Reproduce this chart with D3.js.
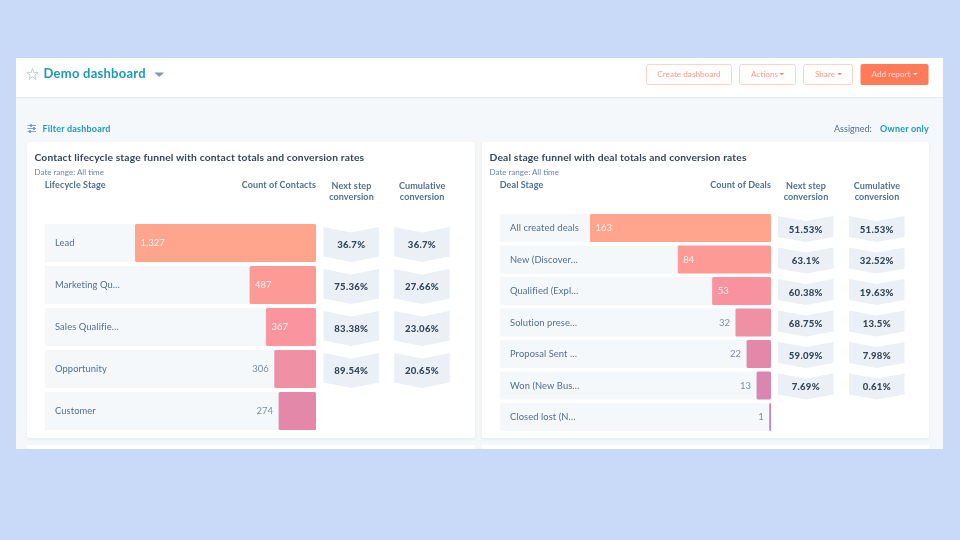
<!DOCTYPE html>
<html><head><meta charset="utf-8">
<script src="https://cdn.jsdelivr.net/npm/d3@7/dist/d3.min.js"></script>
<style>
html,body{margin:0;padding:0;background:#c9daf8;}
svg{display:block;filter:blur(0.35px);}
text{font-family:Lato,"Open Sans",sans-serif;}
</style></head><body>
<svg id="c" width="960" height="540"></svg>
<script>
const contactStages = ["Lead","Marketing Qu…","Sales Qualifie…","Opportunity","Customer"];
const contactCounts = [1327,487,367,306,274];
const contactNext = ["36.7%","75.36%","83.38%","89.54%"];
const contactCum = ["36.7%","27.66%","23.06%","20.65%"];
const contactColors = ["#ffa58d","#fe9a96","#fa95a0","#ef90a5","#e388a9"];
const dealStages = ["All created deals","New (Discover…","Qualified (Expl…","Solution prese…","Proposal Sent …","Won (New Bus…","Closed lost (N…"];
const dealCounts = [163,84,53,32,22,13,1];
const dealNext = ["51.53%","63.1%","60.38%","68.75%","59.09%","7.69%"];
const dealCum = ["51.53%","32.52%","19.63%","13.5%","7.98%","0.61%"];
const dealColors = ["#ffa58d","#fe9a96","#f8929f","#ef90a5","#e388a9","#d987b0","#cc85b5"];
const buttons = [["Create dashboard",646,732],["Actions",739,796],["Share",803,853]];

const svg = d3.select("#c");
const fmt = d3.format(",");
const T = (x,y,s,size,fill,weight,anchor,ls) => svg.append("text").attr("x",x).attr("y",y).text(s)
  .attr("font-size",size).attr("fill",fill).attr("font-weight",weight||400)
  .attr("text-anchor",anchor||"start").attr("letter-spacing",ls||0);
const R = (x,y,w,h,fill,r,stroke) => svg.append("rect").attr("x",x).attr("y",y).attr("width",w).attr("height",h)
  .attr("fill",fill).attr("rx",r||0).attr("stroke",stroke||"none");

// shadow
const defs = svg.append("defs");
const f = defs.append("filter").attr("id","sh").attr("x","-5%").attr("y","-5%").attr("width","110%").attr("height","110%");
f.append("feDropShadow").attr("dx",0).attr("dy",1).attr("stdDeviation",1.5).attr("flood-color","#cbd6e2").attr("flood-opacity",.5);

// shell
R(16,58,927,391,"#f5f8fa");
R(16,58,927,39,"#ffffff");
R(16,97,927,1,"#e5edf3");

// star
const star = d3.symbol().type(d3.symbolStar).size(40)();
svg.append("path").attr("d",star).attr("transform","translate(32.5,74.5)").attr("fill","none").attr("stroke","#b9c9d8").attr("stroke-width",.9);
T(43.5,78,"Demo dashboard",13,"#1d9bb2",700,"start",0.25);
svg.append("path").attr("d","M154.5,72.5h9.5l-4.75,4.5z").attr("fill","#7c98b6");

buttons.forEach(([s,a,b])=>{
  R(a+.5,64.5,b-a-1,20,"#fff",2,"#ffd3c7");
  const hasCaret = s!=="Create dashboard";
  T((a+b)/2-(hasCaret?3:0),76.5,s,8.2,"#ff9b82",400,"middle");
  if(hasCaret){
    const tw = s==="Actions"?13:10.5;
    svg.append("path").attr("d",`M${(a+b)/2+tw-1},73h4.4l-2.2,2.2z`).attr("fill","#ff7a59");
  }
});
R(860.5,64,68,21,"#ff7a59",2);
T(891,76.5,"Add report",8.2,"#ffd9cf",400,"middle");
svg.append("path").attr("d","M913,73h4.4l-2.2,2.2z").attr("fill","#fff");

// filter row
[[125.5,31],[128.5,34],[131.5,30]].forEach(([y,kx])=>{
  svg.append("line").attr("x1",27.5).attr("x2",36).attr("y1",y).attr("y2",y).attr("stroke","#7c98b6").attr("stroke-width",.9);
  R(kx-1,y-1.3,2,2.6,"#7c98b6");
});
T(42.5,132,"Filter dashboard",9,"#1d9bb2",700,"start",.2);
T(834,132,"Assigned:",9,"#516f90");
T(929,132,"Owner only",9,"#1d9bb2",700,"end",.2);

// lower cards peek
[[27,448],[482,447]].forEach(([x,w])=>{ R(x,445,w,4,"#fff"); });

function card(o){
  R(o.x,142,o.w,296,"#fff",2).attr("filter","url(#sh)");
  T(o.x+7.5,161,o.title,10.3,"#33475b",700,"start",.14);
  T(o.x+7.5,175,"Date range:  All time",8,"#6b84a0");
  T(o.rowX-.3,188,o.dim,9,"#516f90",700,"start",.1);
  T(o.barR,188,o.meas,9,"#516f90",700,"end",.1);
  [["Next step","conversion",o.c1],["Cumulative","conversion",o.c2]].forEach(([a,b,x])=>{
    T(x+28,188.5,a,9,"#516f90",700,"middle",.1);
    T(x+28,199.5,b,9,"#516f90",700,"middle",.1);
  });
  const y = d3.scaleBand().domain(o.stages).range(o.yr).paddingInner(o.pad);
  const x = d3.scaleLinear().domain([0,o.counts[0]]).range([0,o.barR-o.barL]);
  o.stages.forEach((s,i)=>{
    const top=y(s), h=y.bandwidth(), v=o.counts[i], w=Math.max(x(v),1.8);
    R(o.rowX,top,o.barR-o.rowX,h,"#f5f8fa");
    T(o.rowX+10,top+h/2+3,s,9.4,"#516f90",400,"start",.08);
    R(o.barR-w,top,w,h,o.colors[i],1.5);
    if(w>45) T(o.barR-w+5.5,top+h/2+3,fmt(v),9.5,"#fff2ee");
    else T(o.barR-w-5.5,top+h/2+3,fmt(v),9.5,"#7c8ea3",400,"end");
    if(i<o.next.length){
      const ct=top+o.ct, cb=top+h;
      [[o.c1,o.next[i]],[o.c2,o.cum[i]]].forEach(([l,t])=>{
        const r=l+55.5,m=l+27.75;
        svg.append("path").attr("d",d3.line()([[l,ct],[m,ct+o.n],[r,ct],[r,cb-o.n],[m,cb],[l,cb-o.n]])+"Z").attr("fill","#eaf0f6");
        T(m,(ct+cb)/2+3.7,t,9.6,"#33475b",900,"middle",.25);
      });
    }
  });
}
card({x:27,w:448,title:"Contact lifecycle stage funnel with contact totals and conversion rates",
  dim:"Lifecycle Stage",meas:"Count of Contacts",rowX:45,barL:135,barR:316,c1:323.5,c2:394.2,
  stages:contactStages,counts:contactCounts,next:contactNext,cum:contactCum,colors:contactColors,
  yr:[224,430],pad:4/42,ct:3,n:5.5});
card({x:482,w:447,title:"Deal stage funnel with deal totals and conversion rates",
  dim:"Deal Stage",meas:"Count of Deals",rowX:500,barL:590,barR:771,c1:778,c2:849,
  stages:dealStages,counts:dealCounts,next:dealNext,cum:dealCum,colors:dealColors,
  yr:[214,431],pad:3.5/31.5,ct:2,n:5});
</script></body></html>
